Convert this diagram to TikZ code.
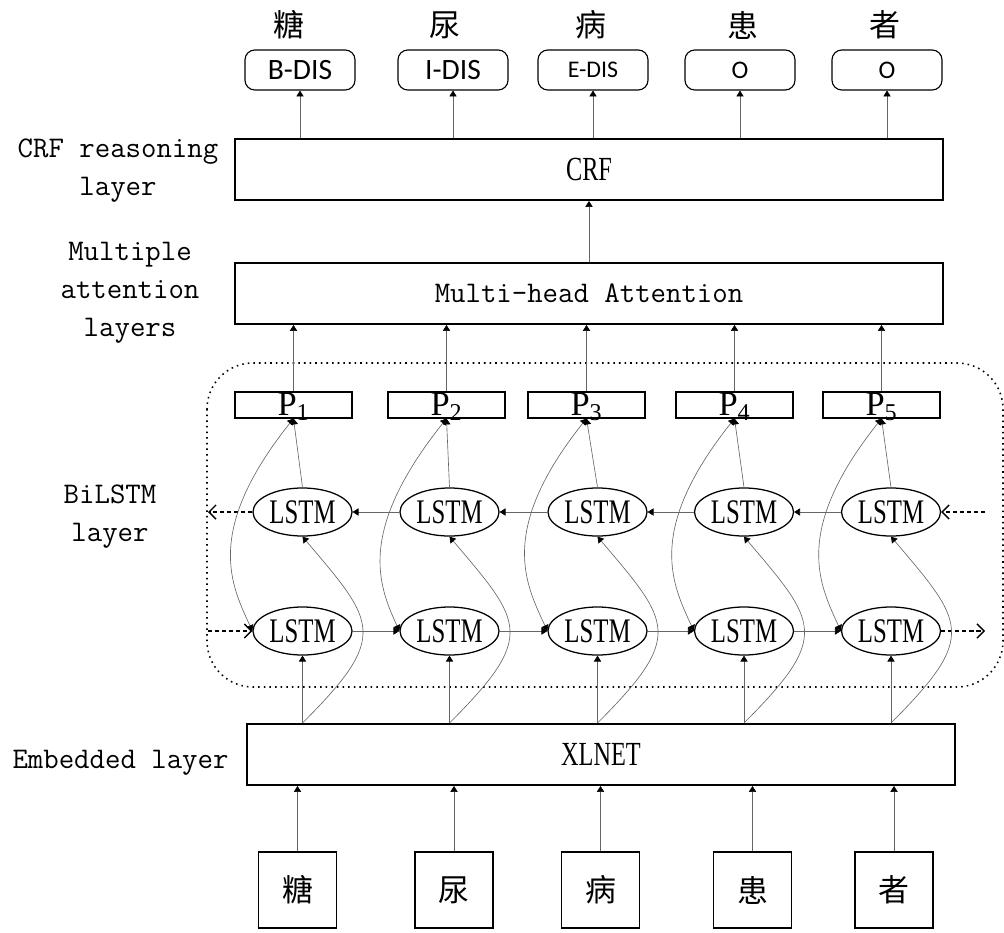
\documentclass[tikz,border=0pt]{standalone}
\usepackage{fontspec}
\setmainfont{Liberation Serif}
\newfontfamily\cjk{Noto Sans CJK SC}
\newfontfamily\tagfont{Carlito}
\newfontfamily\narrowserif[FakeStretch=0.72]{Liberation Serif}
\usetikzlibrary{arrows.meta,shapes.geometric}

\begin{document}
\begin{tikzpicture}[
  x=0.025cm, y=-0.025cm,
  layerbox/.style={draw, line width=1.4pt, minimum width=17.7cm, minimum height=1.525cm, inner sep=0pt},
  tagbox/.style={draw, rounded corners=7pt, line width=0.8pt, minimum width=2.75cm, minimum height=1cm, inner sep=0pt, font=\tagfont},
  pbox/.style={draw, line width=0.8pt, minimum width=2.925cm, minimum height=0.65cm, inner sep=0pt, text height=0.5cm, text depth=0pt, font=\fontsize{24.5}{28}\selectfont},
  lstm/.style={draw, ellipse, line width=0.9pt, minimum width=2.475cm, minimum height=1.2cm, inner sep=0pt, font=\narrowserif\fontsize{24.5}{28}\selectfont},
  charbox/.style={draw, line width=0.8pt, minimum width=1.95cm, minimum height=1.9cm, inner sep=0pt, font=\cjk\fontsize{22}{26}\selectfont},
  charnote/.style={inner sep=0pt, font=\cjk\fontsize{22}{26}\selectfont},
  sidenote/.style={align=center, inner sep=0pt, font=\ttfamily\fontsize{21.3}{27}\selectfont},
  link/.style={draw=black!60, line width=0.45pt, -{Triangle[length=4.2pt,width=5.2pt,color=black]}},
  duplex/.style={draw=black!60, line width=0.45pt, {Triangle[length=4.2pt,width=5.2pt,color=black]}-{Triangle[length=4.2pt,width=5.2pt,color=black]}},
  flow/.style={dash pattern=on 3pt off 2pt, line width=1pt, -{Straight Barb[length=5pt,width=10pt]}},
  frame/.style={line width=1.1pt, dash pattern=on 1.1pt off 2.9pt, rounded corners=1.15cm}
]
\useasboundingbox (0,0) rectangle (1004,932);

\node[charnote] (w1) at (289,25) {糖};
\node[charnote] (w2) at (445,25) {尿};
\node[charnote] (w3) at (591,25) {病};
\node[charnote] (w4) at (743,25) {患};
\node[charnote] (w5) at (885,25) {者};

\node[tagbox, font=\tagfont\fontsize{21}{24}\selectfont] (t1) at (300,70) {B-DIS};
\node[tagbox, font=\tagfont\fontsize{21}{24}\selectfont] (t2) at (453,70) {I-DIS};
\node[tagbox, font=\tagfont\fontsize{17}{20}\selectfont] (t3) at (593,70) {E-DIS};
\node[tagbox, font=\tagfont\fontsize{18}{20}\selectfont] (t4) at (740,70) {O};
\node[tagbox, font=\tagfont\fontsize{18}{20}\selectfont] (t5) at (887,70) {O};

\node[layerbox, font=\narrowserif\fontsize{24}{28}\selectfont] (crf) at (589,169.5) {CRF};
\node[layerbox, font=\ttfamily\fontsize{21.3}{27}\selectfont] (mha) at (589,293.5) {Multi-head Attention};

\node[sidenote] (lcrf) at (118,171) {CRF reasoning\\layer};
\node[sidenote] (lmha) at (130,293) {Multiple\\attention\\layers};
\node[sidenote] (lbil) at (110,517) {BiLSTM\\layer};
\node[sidenote] (lemb) at (120.5,763) {Embedded layer};

\draw[frame] (207,363) rectangle (1003,687);

\node[pbox] (p1) at (293.5,405) {P\textsubscript{1}};
\node[pbox] (p2) at (446.5,405) {P\textsubscript{2}};
\node[pbox] (p3) at (586.5,405) {P\textsubscript{3}};
\node[pbox] (p4) at (734.5,405) {P\textsubscript{4}};
\node[pbox] (p5) at (881.5,405) {P\textsubscript{5}};

\node[lstm] (u1) at (302.5,512) {LSTM};
\node[lstm] (u2) at (449.5,512) {LSTM};
\node[lstm] (u3) at (597.5,512) {LSTM};
\node[lstm] (u4) at (744,512) {LSTM};
\node[lstm] (u5) at (891,512) {LSTM};

\node[lstm] (d1) at (302.5,631) {LSTM};
\node[lstm] (d2) at (449.5,631) {LSTM};
\node[lstm] (d3) at (597.5,631) {LSTM};
\node[lstm] (d4) at (744,631) {LSTM};
\node[lstm] (d5) at (891,631) {LSTM};

\node[layerbox, font=\narrowserif\fontsize{24}{28}\selectfont] (xlnet) at (601,754.5) {XLNET};

\node[charbox] (c1) at (297.5,890) {糖};
\node[charbox] (c2) at (454,890) {尿};
\node[charbox] (c3) at (600.5,890) {病};
\node[charbox] (c4) at (752.5,890) {患};
\node[charbox] (c5) at (894,890) {者};

\coordinate (leftout) at (208,512);
\coordinate (leftin) at (208,631);
\coordinate (rightin) at (985,512);
\coordinate (rightout) at (985,631);

\draw[link] (t1.south |- crf.north) -- (t1.south);
\draw[link] (t2.south |- crf.north) -- (t2.south);
\draw[link] (t3.south |- crf.north) -- (t3.south);
\draw[link] (t4.south |- crf.north) -- (t4.south);
\draw[link] (t5.south |- crf.north) -- (t5.south);
\draw[link] (mha.north) -- (crf.south);

\draw[link] (p1.north) -- (p1.north |- mha.south);
\draw[link] (p2.north) -- (p2.north |- mha.south);
\draw[link] (p3.north) -- (p3.north |- mha.south);
\draw[link] (p4.north) -- (p4.north |- mha.south);
\draw[link] (p5.north) -- (p5.north |- mha.south);

\draw[link] (u1.north) -- (p1.south);
\draw[link] (u2.north) -- (p2.south);
\draw[link] (u3.north) -- (p3.south);
\draw[link] (u4.north) -- (p4.south);
\draw[link] (u5.north) -- (p5.south);

\draw[link] (u5.west) -- (u4.east);
\draw[link] (u4.west) -- (u3.east);
\draw[link] (u3.west) -- (u2.east);
\draw[link] (u2.west) -- (u1.east);
\draw[link] (d1.east) -- (d2.west);
\draw[link] (d2.east) -- (d3.west);
\draw[link] (d3.east) -- (d4.west);
\draw[link] (d4.east) -- (d5.west);

\draw[flow] (u1.west) -- (leftout);
\draw[flow] (leftin) -- (d1.west);
\draw[flow] (rightin) -- (u5.east);
\draw[flow] (d5.east) -- (rightout);

\draw[duplex] (p1.south) .. controls +(-90,113) and +(-21,-46) .. (d1.west);
\draw[duplex] (p2.south) .. controls +(-90,113) and +(-21,-46) .. (d2.west);
\draw[duplex] (p3.south) .. controls +(-90,113) and +(-21,-46) .. (d3.west);
\draw[duplex] (p4.south) .. controls +(-90,113) and +(-21,-46) .. (d4.west);
\draw[duplex] (p5.south) .. controls +(-90,113) and +(-21,-46) .. (d5.west);

\draw[link] (d1.south |- xlnet.north) -- (d1.south);
\draw[link] (d2.south |- xlnet.north) -- (d2.south);
\draw[link] (d3.south |- xlnet.north) -- (d3.south);
\draw[link] (d4.south |- xlnet.north) -- (d4.south);
\draw[link] (d5.south |- xlnet.north) -- (d5.south);

\draw[link] (d1.south |- xlnet.north) .. controls +(87,-87) and +(73,86) .. (u1.south);
\draw[link] (d2.south |- xlnet.north) .. controls +(87,-87) and +(73,86) .. (u2.south);
\draw[link] (d3.south |- xlnet.north) .. controls +(87,-87) and +(73,86) .. (u3.south);
\draw[link] (d4.south |- xlnet.north) .. controls +(87,-87) and +(73,86) .. (u4.south);
\draw[link] (d5.south |- xlnet.north) .. controls +(87,-87) and +(73,86) .. (u5.south);

\draw[link] (c1.north) -- (c1.north |- xlnet.south);
\draw[link] (c2.north) -- (c2.north |- xlnet.south);
\draw[link] (c3.north) -- (c3.north |- xlnet.south);
\draw[link] (c4.north) -- (c4.north |- xlnet.south);
\draw[link] (c5.north) -- (c5.north |- xlnet.south);
\end{tikzpicture}
\end{document}
